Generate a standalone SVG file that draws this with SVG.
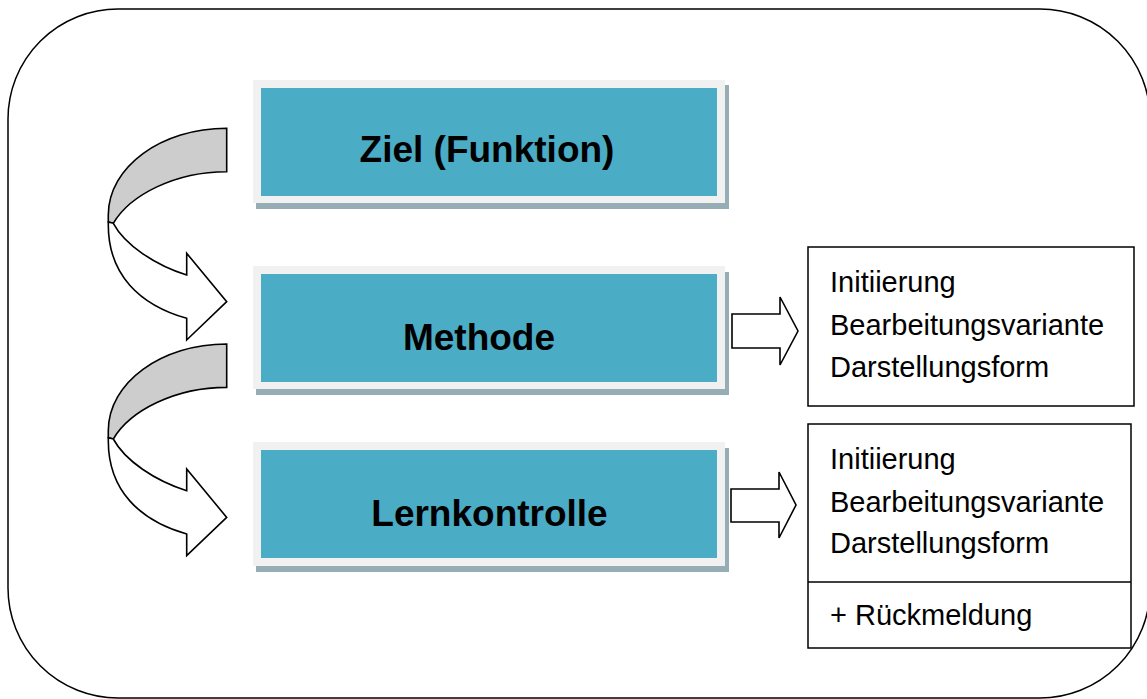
<svg xmlns="http://www.w3.org/2000/svg" xmlns:xlink="http://www.w3.org/1999/xlink" width="1147" height="699" viewBox="0 0 1147 699">
<style>
.frame{fill:#f1f1f1}
.shadow{fill:#97adb5}
.blue{fill:#4bacc6}
.lbl{font-family:"Liberation Sans",Arial,sans-serif;font-weight:bold;font-size:37px;fill:#000;text-anchor:middle}
.txt{font-family:"Liberation Sans",Arial,sans-serif;font-size:29px;fill:#000}
.box{fill:#fff;stroke:#000;stroke-width:1.5}
.arr{fill:#fff;stroke:#000;stroke-width:1.6;stroke-linejoin:miter}
.gray{fill:#cdcdcd;stroke:#000;stroke-width:1.6}
</style>
<defs>
<g id="curved">
<path class="gray" d="M226.7,128.3 C161.3,128.3 108.3,167 108.3,215 L108.3,222 L113.3,223.3 C130,195 175,171.7 226.7,171.7 Z"/>
<path class="arr" d="M108.3,222 L113.3,223.3 C125,245 155,265 186.7,275 L186.7,253.3 L226.7,301.7 L186.7,340 L186.7,318.3 C140,305 108.3,275 108.3,225 Z"/>
</g>
</defs>
<rect id="outer" x="8" y="9" width="1142" height="689" rx="110" ry="110" fill="none" stroke="#000" stroke-width="1.5"/>
<g id="connectors">
<use xlink:href="#curved"/>
<use xlink:href="#curved" transform="translate(0,215.7)"/>
<path class="arr" d="M732,314 L780,314 L780,297 L798,331 L780,365 L780,348 L732,348 Z"/>
<path class="arr" d="M731,489 L779,489 L779,472 L796,505 L779,538 L779,522 L731,522 Z"/>
</g>
<g id="ziel">
<rect class="shadow" x="256" y="85" width="473" height="124"/>
<rect class="frame" x="253" y="80" width="472" height="123"/>
<rect class="blue" x="261" y="88" width="456" height="108"/>
<text class="lbl" x="487" y="162">Ziel (Funktion)</text>
</g>
<g id="methode">
<rect class="shadow" x="256" y="272" width="473" height="123"/>
<rect class="frame" x="253" y="266" width="472" height="123"/>
<rect class="blue" x="261" y="274" width="456" height="108"/>
<text class="lbl" x="479" y="350">Methode</text>
</g>
<g id="lernkontrolle">
<rect class="shadow" x="256" y="448" width="473" height="124"/>
<rect class="frame" x="253" y="442" width="472" height="124"/>
<rect class="blue" x="261" y="450" width="456" height="108"/>
<text class="lbl" x="489.5" y="526">Lernkontrolle</text>
</g>
<g id="methode-details">
<rect class="box" x="808" y="247" width="326" height="159"/>
<text class="txt" x="830" y="292">Initiierung</text>
<text class="txt" x="830" y="335">Bearbeitungsvariante</text>
<text class="txt" x="830" y="377">Darstellungsform</text>
</g>
<g id="lernkontrolle-details">
<rect class="box" x="808" y="424" width="323" height="224"/>
<line x1="808" y1="582" x2="1131" y2="582" stroke="#000" stroke-width="1.5"/>
<text class="txt" x="830" y="469">Initiierung</text>
<text class="txt" x="830" y="512">Bearbeitungsvariante</text>
<text class="txt" x="830" y="553">Darstellungsform</text>
<text class="txt" x="830" y="625">+ Rückmeldung</text>
</g>
</svg>
